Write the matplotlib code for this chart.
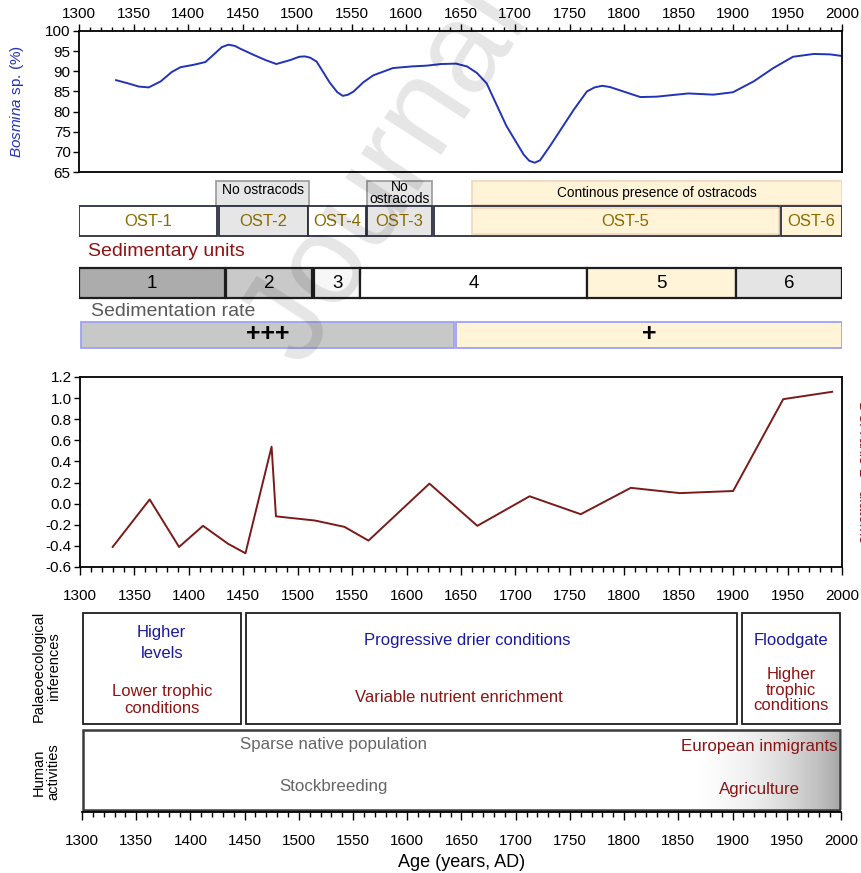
import numpy as np
import matplotlib
matplotlib.use('Agg')
from matplotlib import pyplot as plt
from matplotlib.patches import Rectangle
from matplotlib.ticker import MultipleLocator, FormatStrFormatter

plt.rcParams['font.family'] = ['Liberation Sans', 'DejaVu Sans']
plt.rcParams['mathtext.fontset'] = 'custom'
plt.rcParams['mathtext.it'] = 'Liberation Sans:italic'
plt.rcParams['mathtext.rm'] = 'Liberation Sans'

# Bosmina sp. abundance (%)
bosmina_age = [1334, 1345, 1355, 1364, 1375, 1385, 1393, 1405, 1416, 1425, 1431,
               1437, 1443, 1448, 1460, 1471, 1481, 1494, 1502, 1507, 1512, 1518,
               1530, 1537, 1542, 1547, 1552, 1561, 1570, 1588, 1605, 1619, 1632,
               1646, 1656, 1665, 1674, 1692, 1708, 1713, 1718, 1723, 1732, 1754,
               1766, 1773, 1780, 1787, 1796, 1815, 1830, 1859, 1882, 1900, 1919,
               1937, 1955, 1974, 1989, 2000]
bosmina_pct = [87.8, 87.0, 86.2, 86.0, 87.5, 89.8, 91.0, 91.6, 92.3, 94.5, 96.0,
               96.6, 96.3, 95.6, 94.1, 92.8, 91.8, 92.8, 93.6, 93.7, 93.4, 92.4,
               87.2, 84.8, 83.9, 84.2, 85.0, 87.3, 89.0, 90.8, 91.2, 91.4, 91.8,
               91.9, 91.2, 89.6, 87.0, 76.5, 69.3, 67.8, 67.3, 67.9, 71.4, 80.5,
               85.0, 86.0, 86.4, 86.1, 85.3, 83.6, 83.7, 84.5, 84.2, 84.8, 87.5,
               90.8, 93.6, 94.3, 94.2, 93.8]

# DCA axis 1 scores, diatoms
dca_age = [1330, 1364, 1391, 1413, 1436, 1452, 1476, 1480, 1516, 1543, 1565,
           1621, 1665, 1713, 1760, 1806, 1851, 1900, 1946, 1991]
dca_score = [-0.41, 0.04, -0.41, -0.21, -0.38, -0.47, 0.54, -0.12, -0.16, -0.22,
             -0.35, 0.19, -0.21, 0.07, -0.10, 0.15, 0.10, 0.12, 0.99, 1.06]

# ostracod zones
ost_names = ['OST-1', 'OST-2', 'OST-4', 'OST-3', 'OST-5', 'OST-6']
ost_start = [1300, 1428, 1510, 1564, 1626, 1944]
ost_end = [1427, 1510, 1563, 1624, 1942, 2000]
no_ost_start = [1426, 1564]
no_ost_end = [1511, 1624]
presence_start, presence_end = 1661, 2000

# sedimentary units
unit_names = ['1', '2', '3', '4', '5', '6']
unit_start = [1300, 1435, 1516, 1558, 1766, 1903]
unit_end = [1434, 1514, 1558, 1766, 1903, 2000]

# sedimentation rate
rate_names = ['+++', '+']
rate_start = [1302, 1646]
rate_end = [1644, 2000]

# palaeoecological inferences
paleo_start = [1300, 1451, 1908]
paleo_end = [1447, 1905, 2000]
paleo_water = ['Higher\nlevels', 'Progressive drier conditions', 'Floodgate']
paleo_trophic = ['Lower trophic\nconditions', 'Variable nutrient enrichment',
                 'Higher\ntrophic\nconditions']

W, H = 862, 873
BLUE = '#2233b5'
DARKRED = '#8b1414'
OLIVE = '#8a6a00'
YELLOW = '#fff4d8'


def rect(x0, y0, x1, y1):
    # pixel box with top-left origin -> figure fraction
    return [x0 / W, 1 - y1 / H, (x1 - x0) / W, (y1 - y0) / H]


def ticks_50_10(ax):
    ax.xaxis.set_major_locator(MultipleLocator(50))
    ax.xaxis.set_minor_locator(MultipleLocator(10))


fig = plt.figure(figsize=(W / 100, H / 100), dpi=100)

# --- Bosmina panel ---
ax1 = fig.add_axes(rect(79, 31, 842, 172))
ax1.plot(bosmina_age, bosmina_pct, color=BLUE, lw=1.4)
ax1.set_xlim(1300, 2000)
ax1.set_ylim(65, 100)
ticks_50_10(ax1)
ax1.yaxis.set_major_locator(MultipleLocator(5))
ax1.xaxis.tick_top()
ax1.tick_params(axis='x', which='major', length=5, width=1, labelsize=11, pad=2)
ax1.tick_params(axis='x', which='minor', length=3, width=1)
ax1.tick_params(axis='y', length=4, width=1, labelsize=11, pad=2)
ax1.set_ylabel(r'$\it{Bosmina}$ sp. (%)', color=BLUE, fontsize=11, labelpad=14)
for s in ax1.spines.values():
    s.set_linewidth(1.3)

# --- zone / unit bars ---
axb = fig.add_axes(rect(79, 175, 842, 352))
axb.set_xlim(1300, 2000)
axb.set_ylim(352, 175)
axb.axis('off')

# yellow background for continuous ostracods
axb.add_patch(Rectangle((presence_start, 181), presence_end - presence_start, 24,
                        facecolor=YELLOW, edgecolor='#f0d6bc', lw=1.2))
axb.text((presence_start + presence_end) / 2, 193, 'Continous presence of ostracods',
         ha='center', va='center', fontsize=9.8)
for a, b in zip(no_ost_start, no_ost_end):
    axb.add_patch(Rectangle((a, 180.5), b - a, 25.5, facecolor='#e6e6e6',
                            edgecolor='#9a9a9a', lw=1.2))
axb.text((no_ost_start[0] + no_ost_end[0]) / 2, 190, 'No ostracods',
         ha='center', va='center', fontsize=10)
axb.text((no_ost_start[1] + no_ost_end[1]) / 2, 193, 'No\nostracods',
         ha='center', va='center', fontsize=10, linespacing=0.85)

for name, a, b in zip(ost_names, ost_start, ost_end):
    fc = '#e6e6e6' if name in ('OST-2', 'OST-3') else 'white'
    if name == 'OST-6':
        fc = YELLOW
    axb.add_patch(Rectangle((a, 206), b - a, 29.5, facecolor=fc,
                            edgecolor='#2b2f3f', lw=1.3))
    cx = (a + b) / 2
    if name == 'OST-5':
        axb.add_patch(Rectangle((presence_start, 207.5), b - presence_start, 26.5,
                                facecolor=YELLOW, edgecolor='#f0d6bc', lw=1.2))
        cx = (presence_start + b) / 2
    axb.text(cx, 221.5, name, ha='center', va='center', fontsize=12, color=OLIVE)

axb.text(1308, 252, 'Sedimentary units', ha='left', va='center',
         fontsize=14, color=DARKRED)
unit_colors = ['#acacac', '#c9c9c9', '#f7f7f7', 'white', YELLOW, '#e4e4e4']
for name, a, b, c in zip(unit_names, unit_start, unit_end, unit_colors):
    axb.add_patch(Rectangle((a, 268), b - a, 29.5, facecolor=c,
                            edgecolor='#1e1e1e', lw=1.6))
    axb.text((a + b) / 2, 283, name, ha='center', va='center', fontsize=13.5)

axb.text(1311, 311, 'Sedimentation rate', ha='left', va='center',
         fontsize=14, color='#595959')
rate_colors = ['#c8c8c8', YELLOW]
for name, a, b, c in zip(rate_names, rate_start, rate_end, rate_colors):
    axb.add_patch(Rectangle((a, 322), b - a, 25.5, facecolor=c,
                            edgecolor='#9da2f2', lw=1.3))
    axb.text((a + b) / 2, 334, name, ha='center', va='center', fontsize=18,
             fontweight='bold')

# --- DCA panel ---
ax2 = fig.add_axes(rect(80, 377, 842, 567))
ax2.plot(dca_age, dca_score, color='#7a1a1a', lw=1.4)
ax2.set_xlim(1300, 2000)
ax2.set_ylim(-0.6, 1.2)
ticks_50_10(ax2)
ax2.yaxis.set_major_locator(MultipleLocator(0.2))
ax2.yaxis.set_major_formatter(FormatStrFormatter('%.1f'))
ax2.tick_params(axis='x', which='major', length=6, width=1, labelsize=11, pad=10)
ax2.tick_params(axis='x', which='minor', length=3.5, width=1)
ax2.tick_params(axis='y', length=4, width=1, labelsize=11, pad=2)
for s in ax2.spines.values():
    s.set_linewidth(1.3)
ax2.yaxis.set_label_position('right')
ax2.set_ylabel('DCA axis 1 - diatoms', color=DARKRED, fontsize=11,
               rotation=270, labelpad=20)

# --- inferences and human activities ---
ax3 = fig.add_axes(rect(82, 610, 841, 812))
ax3.set_xlim(1300, 2000)
ax3.set_ylim(812, 610)
for side in ('top', 'left', 'right'):
    ax3.spines[side].set_visible(False)
ax3.spines['bottom'].set_linewidth(1.3)
ax3.set_yticks([])
ticks_50_10(ax3)
ax3.tick_params(axis='x', which='major', length=6, width=1, labelsize=11, pad=10)
ax3.tick_params(axis='x', which='minor', length=3.5, width=1)
ax3.set_xlabel('Age (years, AD)', fontsize=13, labelpad=4)

for a, b in zip(paleo_start, paleo_end):
    ax3.add_patch(Rectangle((a + 0.5, 613), b - a - 1, 111, facecolor='white',
                            edgecolor='#1e1e1e', lw=1.3))
water_x = [1373.5, 1655, 1954]
trophic_x = [1373.5, 1648, 1954]
trophic_y = [700, 697, 690]
for i in range(3):
    ax3.text(water_x[i], 640 if i else 643, paleo_water[i], ha='center', va='center',
             fontsize=12, color='#1a1a9a', linespacing=1.45)
    ax3.text(trophic_x[i], trophic_y[i], paleo_trophic[i], ha='center', va='center',
             fontsize=12, color=DARKRED, linespacing=1.0 if i == 2 else 1.15)

# human activities box with a grey fade towards the present
grad = np.linspace(0, 1, 256) ** 1.3
ax3.imshow(grad[np.newaxis, :], cmap='Greys', vmin=0, vmax=2.2, aspect='auto',
           extent=(1865, 2000, 810, 730), zorder=1)
ax3.add_patch(Rectangle((1300.5, 730), 699, 80, facecolor='none',
                        edgecolor='#3a3a3a', lw=1.8, zorder=2))
ax3.set_ylim(812, 610)
ax3.text(1532, 744, 'Sparse native population', ha='center', va='center',
         fontsize=12.2, color='#666666', zorder=3)
ax3.text(1532, 786, 'Stockbreeding', ha='center', va='center',
         fontsize=12.2, color='#666666', zorder=3)
ax3.text(1925, 747, 'European inmigrants', ha='center', va='center',
         fontsize=12.2, color=DARKRED, zorder=3)
ax3.text(1925, 789, 'Agriculture', ha='center', va='center',
         fontsize=12.2, color=DARKRED, zorder=3)

fig.text(46 / W, 1 - 666 / H, 'Palaeoecological\ninferences', rotation=90,
         ha='center', va='center', fontsize=10.5, linespacing=1.1)
fig.text(46 / W, 1 - 772 / H, 'Human\nactivities', rotation=90,
         ha='center', va='center', fontsize=10.5, linespacing=1.1)

# watermark
fig.text(388 / W, 1 - 175 / H, 'Journal', rotation=57, rotation_mode='anchor',
         ha='center', va='center', fontsize=92, color='k', alpha=0.1, zorder=10)

fig.savefig('out.png', dpi=100)
